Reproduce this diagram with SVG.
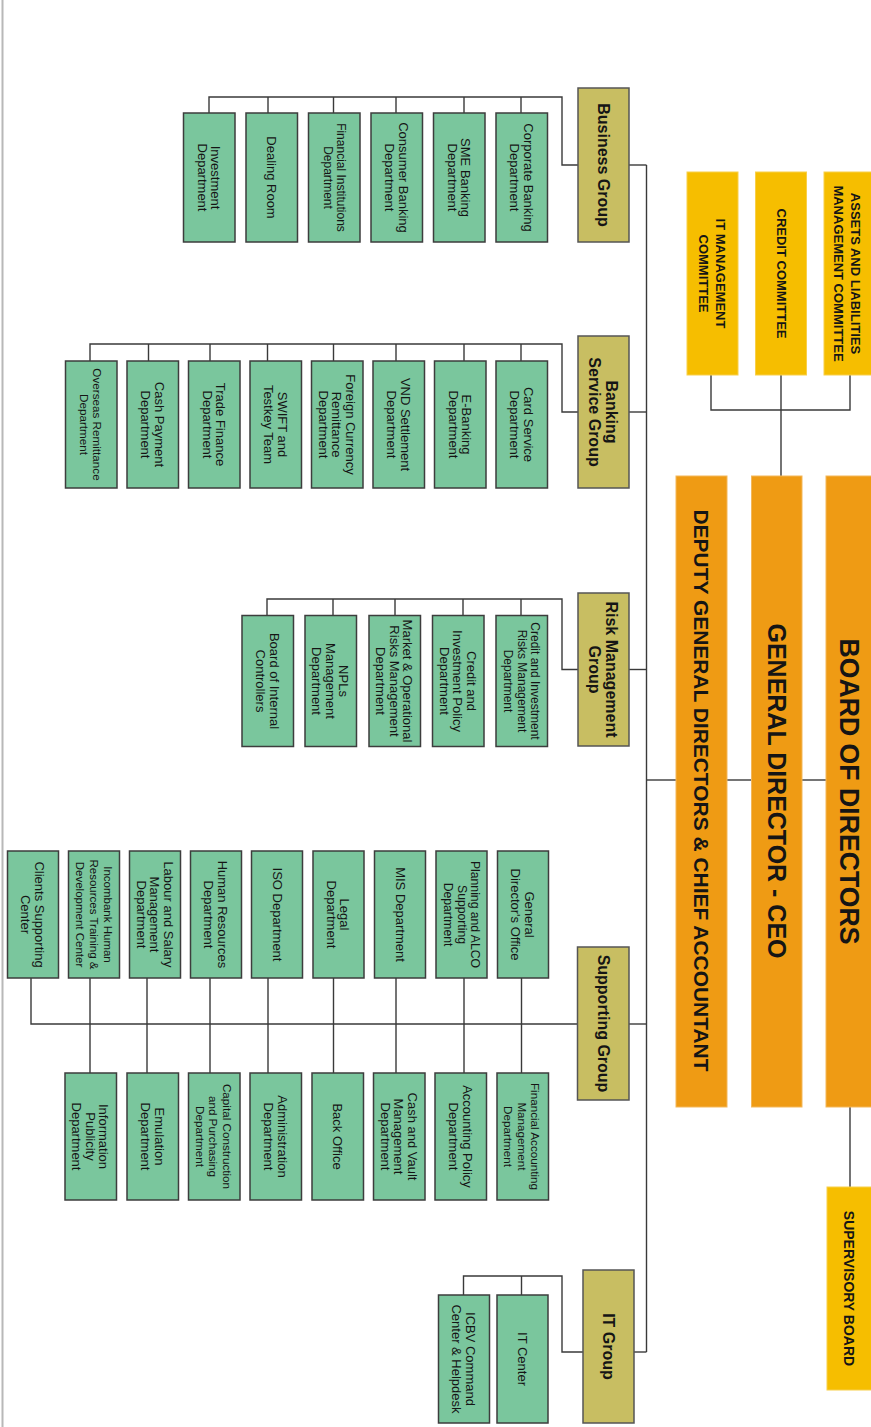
<svg xmlns="http://www.w3.org/2000/svg" width="871" height="1427" viewBox="0 0 871 1427">
<style>
text, tspan { dominant-baseline: central; }
text { font-family: "Liberation Sans", Arial, sans-serif; text-anchor: middle; fill: #151515; }
.leaf { fill: #7ac69d; stroke: #3d3d3d; stroke-width: 1.5; }
.grp { fill: #c8be62; stroke: #555; stroke-width: 1.5; }
.main { fill: #ef9b14; stroke: #f3b75a; stroke-width: 1; }
.com { fill: #f6be00; stroke: #f8cf4a; stroke-width: 1; }
.t { font-size: 13px; }
.g { font-size: 16px; font-weight: bold; }
.c { font-size: 13px; font-weight: bold; }
.ti { font-weight: bold; }
.conn path { fill: none; stroke: #3a3a3a; stroke-width: 1.4; }
.frame { stroke: #b8b8b8; stroke-width: 2; fill: none; }
</style>

<path class="frame" d="M2.5 0 V1427"/>

<g class="conn" id="connectors">
  <path d="M711 375 V410 H850 V375"/>
  <path d="M781 375 V476"/>
  <path d="M850 1107 V1187"/>
  <path d="M802 780 H826"/>
  <path d="M727 780 H751.5"/>
  <path d="M646.5 780 H676"/>
  <path d="M646.5 165 V1352"/>
  <path d="M629 165 H646.5"/>
  <path d="M209 113 V97 H562 V165 H578"/>
  <path d="M268 97 V113 M333.5 97 V113 M396 97 V113 M464 97 V113 M521 97 V113"/>
  <path d="M629 412 H646.5"/>
  <path d="M90 361 V344 H562 V412 H578"/>
  <path d="M148.5 344 V361 M210 344 V361 M267.5 344 V361 M333.5 344 V361 M396 344 V361 M464 344 V361 M521 344 V361"/>
  <path d="M629 669.5 H646.5"/>
  <path d="M267 615.5 V599 H562 V669.5 H578"/>
  <path d="M333 599 V615.5 M395 599 V615.5 M463 599 V615.5 M521 599 V615.5"/>
  <path d="M629 1024 H646.5"/>
  <path d="M31 978 V1024 H577.5"/>
  <path d="M90 978 V1073 M147 978 V1073 M210 978 V1073 M268 978 V1073 M333.5 978 V1073 M396 978 V1073 M464 978 V1073 M521.5 978 V1073"/>
  <path d="M634 1352 H646.5"/>
  <path d="M463.5 1295 V1276 H562 V1352 H583"/>
  <path d="M521.5 1276 V1295"/>
</g>

<g id="board-of-directors">
  <rect class="main" x="826" y="476" width="46" height="631"/>
  <text class="ti" style="font-size:28px" textLength="306" lengthAdjust="spacingAndGlyphs" x="849" y="791.5" transform="rotate(90 849 791.5)">BOARD OF DIRECTORS</text>
</g>
<g id="general-director">
  <rect class="main" x="751.5" y="476" width="50.5" height="631"/>
  <text class="ti" style="font-size:26px" textLength="335" lengthAdjust="spacingAndGlyphs" x="777" y="791" transform="rotate(90 777 791)">GENERAL DIRECTOR - CEO</text>
</g>
<g id="deputy">
  <rect class="main" x="676" y="476" width="51" height="631"/>
  <text class="ti" style="font-size:21px" textLength="562" lengthAdjust="spacingAndGlyphs" x="701.5" y="790.5" transform="rotate(90 701.5 790.5)">DEPUTY GENERAL DIRECTORS &amp; CHIEF ACCOUNTANT</text>
</g>
<g id="supervisory-board">
  <rect class="com" x="827" y="1187" width="45" height="203"/>
  <text class="c" style="font-size:14px" x="849" y="1288.5" transform="rotate(90 849 1288.5)">SUPERVISORY BOARD</text>
</g>

<g id="alm-committee">
  <rect class="com" x="824" y="172" width="48" height="203"/>
  <text class="c" transform="rotate(90 847.5 273.5)"><tspan x="847.5" y="264.75">ASSETS AND LIABILITIES</tspan><tspan x="847.5" y="282.25">MANAGEMENT COMMITTEE</tspan></text>
</g>
<g id="credit-committee">
  <rect class="com" x="755.5" y="172" width="51" height="203"/>
  <text class="c" x="781" y="273.5" transform="rotate(90 781 273.5)">CREDIT COMMITTEE</text>
</g>
<g id="it-management-committee">
  <rect class="com" x="687" y="172" width="51" height="203"/>
  <text class="c" transform="rotate(90 712.5 273.5)"><tspan x="712.5" y="264.75">IT MANAGEMENT</tspan><tspan x="712.5" y="282.25">COMMITTEE</tspan></text>
</g>

<g id="business-group">
  <rect class="grp" x="578" y="88" width="51" height="154"/>
  <text class="g" x="603.5" y="165" transform="rotate(90 603.5 165)">Business Group</text>
</g>
<g id="investment-department">
  <rect class="leaf" x="183.5" y="113" width="51.5" height="129"/>
  <text class="t" transform="rotate(90 209.25 177.5)"><tspan x="209.25" y="170.75">Investment</tspan><tspan x="209.25" y="184.25">Department</tspan></text>
</g>
<g id="dealing-room">
  <rect class="leaf" x="246" y="113" width="51.5" height="129"/>
  <text class="t" x="271.75" y="177.5" transform="rotate(90 271.75 177.5)">Dealing Room</text>
</g>
<g id="financial-institutions">
  <rect class="leaf" x="308.5" y="113" width="51.5" height="129"/>
  <text class="t" style="font-size:12px" transform="rotate(90 334.25 177.5)"><tspan x="334.25" y="170.75">Financial Institutions</tspan><tspan x="334.25" y="184.25">Department</tspan></text>
</g>
<g id="consumer-banking">
  <rect class="leaf" x="371" y="113" width="51.5" height="129"/>
  <text class="t" transform="rotate(90 396.75 177.5)"><tspan x="396.75" y="170.75">Consumer Banking</tspan><tspan x="396.75" y="184.25">Department</tspan></text>
</g>
<g id="sme-banking">
  <rect class="leaf" x="433.5" y="113" width="51.5" height="129"/>
  <text class="t" transform="rotate(90 459.25 177.5)"><tspan x="459.25" y="170.75">SME Banking</tspan><tspan x="459.25" y="184.25">Department</tspan></text>
</g>
<g id="corporate-banking">
  <rect class="leaf" x="496" y="113" width="51.5" height="129"/>
  <text class="t" transform="rotate(90 521.75 177.5)"><tspan x="521.75" y="170.75">Corporate Banking</tspan><tspan x="521.75" y="184.25">Department</tspan></text>
</g>

<g id="banking-service-group">
  <rect class="grp" x="578" y="336" width="51" height="152"/>
  <text class="g" transform="rotate(90 603.5 412)"><tspan x="603.5" y="403.5">Banking</tspan><tspan x="603.5" y="420.5">Service Group</tspan></text>
</g>
<g id="overseas-remittance">
  <rect class="leaf" x="65.5" y="361" width="51.5" height="127"/>
  <text class="t" style="font-size:11.7px" transform="rotate(90 91.25 424.5)"><tspan x="91.25" y="417.75">Overseas Remittance</tspan><tspan x="91.25" y="431.25">Department</tspan></text>
</g>
<g id="cash-payment">
  <rect class="leaf" x="127" y="361" width="51.5" height="127"/>
  <text class="t" transform="rotate(90 152.75 424.5)"><tspan x="152.75" y="417.75">Cash Payment</tspan><tspan x="152.75" y="431.25">Department</tspan></text>
</g>
<g id="trade-finance">
  <rect class="leaf" x="188.5" y="361" width="51.5" height="127"/>
  <text class="t" transform="rotate(90 214.25 424.5)"><tspan x="214.25" y="417.75">Trade Finance</tspan><tspan x="214.25" y="431.25">Department</tspan></text>
</g>
<g id="swift-testkey">
  <rect class="leaf" x="250" y="361" width="51.5" height="127"/>
  <text class="t" transform="rotate(90 275.75 424.5)"><tspan x="275.75" y="417.75">SWIFT and</tspan><tspan x="275.75" y="431.25">Testkey Team</tspan></text>
</g>
<g id="foreign-currency-remittance">
  <rect class="leaf" x="311.5" y="361" width="51.5" height="127"/>
  <text class="t" transform="rotate(90 337.25 424.5)"><tspan x="337.25" y="411">Foreign Currency</tspan><tspan x="337.25" y="424.5">Remittance</tspan><tspan x="337.25" y="438">Department</tspan></text>
</g>
<g id="vnd-settlement">
  <rect class="leaf" x="373" y="361" width="51.5" height="127"/>
  <text class="t" transform="rotate(90 398.75 424.5)"><tspan x="398.75" y="417.75">VND Settlement</tspan><tspan x="398.75" y="431.25">Department</tspan></text>
</g>
<g id="e-banking">
  <rect class="leaf" x="434.5" y="361" width="51.5" height="127"/>
  <text class="t" transform="rotate(90 460.25 424.5)"><tspan x="460.25" y="417.75">E-Banking</tspan><tspan x="460.25" y="431.25">Department</tspan></text>
</g>
<g id="card-service">
  <rect class="leaf" x="496" y="361" width="51.5" height="127"/>
  <text class="t" transform="rotate(90 521.75 424.5)"><tspan x="521.75" y="417.75">Card Service</tspan><tspan x="521.75" y="431.25">Department</tspan></text>
</g>

<g id="risk-management-group">
  <rect class="grp" x="578" y="593" width="51" height="153"/>
  <text class="g" transform="rotate(90 603.5 669.5)"><tspan x="603.5" y="661">Risk Management</tspan><tspan x="603.5" y="678">Group</tspan></text>
</g>
<g id="board-of-internal-controllers">
  <rect class="leaf" x="242" y="615.5" width="51.5" height="131"/>
  <text class="t" transform="rotate(90 267.75 681)"><tspan x="267.75" y="674.25">Board of Internal</tspan><tspan x="267.75" y="687.75">Controllers</tspan></text>
</g>
<g id="npls-management">
  <rect class="leaf" x="305" y="615.5" width="51.5" height="131"/>
  <text class="t" transform="rotate(90 330.75 681)"><tspan x="330.75" y="667.5">NPLs</tspan><tspan x="330.75" y="681">Management</tspan><tspan x="330.75" y="694.5">Department</tspan></text>
</g>
<g id="market-operational-risks">
  <rect class="leaf" x="369" y="615.5" width="51.5" height="131"/>
  <text class="t" transform="rotate(90 394.75 681)"><tspan x="394.75" y="667.5">Market &amp; Operational</tspan><tspan x="394.75" y="681">Risks Management</tspan><tspan x="394.75" y="694.5">Department</tspan></text>
</g>
<g id="credit-investment-policy">
  <rect class="leaf" x="432.5" y="615.5" width="51.5" height="131"/>
  <text class="t" transform="rotate(90 458.25 681)"><tspan x="458.25" y="667.5">Credit and</tspan><tspan x="458.25" y="681">Investment Policy</tspan><tspan x="458.25" y="694.5">Department</tspan></text>
</g>
<g id="credit-investment-risks">
  <rect class="leaf" x="496" y="615.5" width="51.5" height="131"/>
  <text class="t" style="font-size:12px" transform="rotate(90 521.75 681)"><tspan x="521.75" y="667.5">Credit and Investment</tspan><tspan x="521.75" y="681">Risks Management</tspan><tspan x="521.75" y="694.5">Department</tspan></text>
</g>

<g id="supporting-group">
  <rect class="grp" x="577.5" y="947" width="51.5" height="153"/>
  <text class="g" x="603.25" y="1023.5" transform="rotate(90 603.25 1023.5)">Supporting Group</text>
</g>
<g id="clients-supporting-center">
  <rect class="leaf" x="7.5" y="851" width="51" height="127"/>
  <text class="t" transform="rotate(90 33 914.5)"><tspan x="33" y="907.75">Clients Supporting</tspan><tspan x="33" y="921.25">Center</tspan></text>
</g>
<g id="incombank-hr-training">
  <rect class="leaf" x="68.5" y="851" width="51" height="127"/>
  <text class="t" style="font-size:11.5px" transform="rotate(90 94 914.5)"><tspan x="94" y="900.5">Incombank Human</tspan><tspan x="94" y="914.5">Resources Training &amp;</tspan><tspan x="94" y="928.5">Development Center</tspan></text>
</g>
<g id="labour-salary">
  <rect class="leaf" x="129.5" y="851" width="51" height="127"/>
  <text class="t" transform="rotate(90 155 914.5)"><tspan x="155" y="901">Labour and Salary</tspan><tspan x="155" y="914.5">Management</tspan><tspan x="155" y="928">Department</tspan></text>
</g>
<g id="human-resources">
  <rect class="leaf" x="190.5" y="851" width="51" height="127"/>
  <text class="t" transform="rotate(90 216 914.5)"><tspan x="216" y="907.75">Human Resources</tspan><tspan x="216" y="921.25">Department</tspan></text>
</g>
<g id="iso-department">
  <rect class="leaf" x="251.5" y="851" width="51" height="127"/>
  <text class="t" x="277" y="914.5" transform="rotate(90 277 914.5)">ISO Department</text>
</g>
<g id="legal-department">
  <rect class="leaf" x="313" y="851" width="51" height="127"/>
  <text class="t" transform="rotate(90 338.5 914.5)"><tspan x="338.5" y="907.75">Legal</tspan><tspan x="338.5" y="921.25">Department</tspan></text>
</g>
<g id="mis-department">
  <rect class="leaf" x="374.5" y="851" width="51" height="127"/>
  <text class="t" x="400" y="914.5" transform="rotate(90 400 914.5)">MIS Department</text>
</g>
<g id="planning-alco">
  <rect class="leaf" x="436" y="851" width="51" height="127"/>
  <text class="t" style="font-size:12.2px" transform="rotate(90 461.5 914.5)"><tspan x="461.5" y="901">Planning and ALCO</tspan><tspan x="461.5" y="914.5">Supporting</tspan><tspan x="461.5" y="928">Department</tspan></text>
</g>
<g id="general-directors-office">
  <rect class="leaf" x="497.5" y="851" width="51" height="127"/>
  <text class="t" transform="rotate(90 523 914.5)"><tspan x="523" y="907.75">General</tspan><tspan x="523" y="921.25">Director's Office</tspan></text>
</g>
<g id="information-publicity">
  <rect class="leaf" x="65" y="1073" width="51.5" height="127"/>
  <text class="t" transform="rotate(90 90.75 1136.5)"><tspan x="90.75" y="1123">Information</tspan><tspan x="90.75" y="1136.5">Publicity</tspan><tspan x="90.75" y="1150">Department</tspan></text>
</g>
<g id="emulation">
  <rect class="leaf" x="127" y="1073" width="51.5" height="127"/>
  <text class="t" transform="rotate(90 152.75 1136.5)"><tspan x="152.75" y="1129.75">Emulation</tspan><tspan x="152.75" y="1143.25">Department</tspan></text>
</g>
<g id="capital-construction">
  <rect class="leaf" x="188.5" y="1073" width="51.5" height="127"/>
  <text class="t" style="font-size:11.7px" transform="rotate(90 214.25 1136.5)"><tspan x="214.25" y="1123">Capital Construction</tspan><tspan x="214.25" y="1136.5">and Purchasing</tspan><tspan x="214.25" y="1150">Department</tspan></text>
</g>
<g id="administration">
  <rect class="leaf" x="250" y="1073" width="51.5" height="127"/>
  <text class="t" transform="rotate(90 275.75 1136.5)"><tspan x="275.75" y="1129.75">Administration</tspan><tspan x="275.75" y="1143.25">Department</tspan></text>
</g>
<g id="back-office">
  <rect class="leaf" x="312" y="1073" width="51.5" height="127"/>
  <text class="t" x="337.75" y="1136.5" transform="rotate(90 337.75 1136.5)">Back Office</text>
</g>
<g id="cash-vault">
  <rect class="leaf" x="373.5" y="1073" width="51.5" height="127"/>
  <text class="t" transform="rotate(90 399.25 1136.5)"><tspan x="399.25" y="1123">Cash and Vault</tspan><tspan x="399.25" y="1136.5">Management</tspan><tspan x="399.25" y="1150">Department</tspan></text>
</g>
<g id="accounting-policy">
  <rect class="leaf" x="435" y="1073" width="51.5" height="127"/>
  <text class="t" transform="rotate(90 460.75 1136.5)"><tspan x="460.75" y="1129.75">Accounting Policy</tspan><tspan x="460.75" y="1143.25">Department</tspan></text>
</g>
<g id="financial-accounting">
  <rect class="leaf" x="497" y="1073" width="51.5" height="127"/>
  <text class="t" style="font-size:11.7px" transform="rotate(90 522.75 1136.5)"><tspan x="522.75" y="1123">Financial Accounting</tspan><tspan x="522.75" y="1136.5">Management</tspan><tspan x="522.75" y="1150">Department</tspan></text>
</g>

<g id="it-group">
  <rect class="grp" x="583" y="1270" width="51" height="153"/>
  <text class="g" x="608.5" y="1346.5" transform="rotate(90 608.5 1346.5)">IT Group</text>
</g>
<g id="icbv-command-center">
  <rect class="leaf" x="438.5" y="1295" width="51" height="128"/>
  <text class="t" transform="rotate(90 464 1359)"><tspan x="464" y="1352.25">ICBV Command</tspan><tspan x="464" y="1365.75">Center &amp; Helpdesk</tspan></text>
</g>
<g id="it-center">
  <rect class="leaf" x="497" y="1295" width="51" height="128"/>
  <text class="t" x="522.5" y="1359" transform="rotate(90 522.5 1359)">IT Center</text>
</g>
</svg>
